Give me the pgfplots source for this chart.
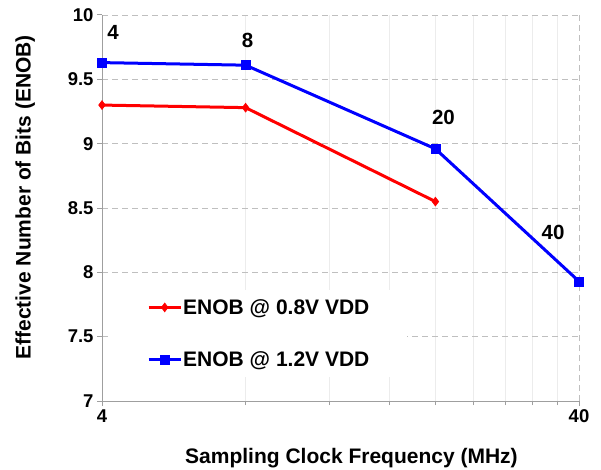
\documentclass[border=0pt]{standalone}
\usepackage{fontspec}
\setmainfont{Liberation Sans}
\usepackage{pgfplots}
\pgfplotsset{compat=1.18}
\begin{document}
\begin{tikzpicture}
\useasboundingbox (-102pt,-68pt) rectangle (499pt,401pt);
\begin{axis}[
 at={(0pt,0pt)}, anchor=south west,
 scale only axis, width=477pt, height=386pt,
 xmode=log, xmin=4, xmax=40, ymin=7, ymax=10,
 xtick={4,40}, xticklabels={4,40},
 minor xtick={8,12,16,20,24,28,32,36},
 ytick={7,7.5,...,10},
 axis x line*=bottom, axis y line*=left,
 axis line style={draw=gray!75, line width=1pt, -},
 tick style={draw=gray!75, line width=1pt},
 tick align=outside, major tick length=5pt, minor tick length=4pt,
 ymajorgrids, xmajorgrids, xminorgrids,
 major grid style={dash pattern=on 6pt off 4pt, gray!50, line width=0.8pt},
 minor grid style={solid, gray!15, line width=0.8pt},
 ticklabel style={font=\fontsize{18.5}{20}\selectfont\bfseries},
 /pgf/number format/assume math mode=true,
 yticklabel style={/pgf/number format/fixed},
 label style={font=\fontsize{21}{25}\selectfont\bfseries},
 xlabel={Sampling Clock Frequency (MHz)},
 ylabel={Effective Number of Bits (ENOB)},
 xlabel style={at={(axis description cs:0.523,-0.148)}, anchor=center},
 ylabel style={at={(axis description cs:-0.161,0.528)}, anchor=center},
 legend style={at={(rel axis cs:0.0168,0.2876)}, anchor=north west, fill=white, draw=none,
   inner xsep=37pt, inner ysep=8pt, row sep=34pt, column sep=0pt,
   font=\fontsize{21}{25}\selectfont\bfseries, nodes={inner sep=1pt}},
 legend cell align=left,
 legend image code/.code={\draw[mark repeat=2,mark phase=2] plot coordinates {(0pt,0pt)(16pt,0pt)(32pt,0pt)};},
 clip=false,
]
\addplot[red, line width=3pt, mark=diamond*, mark size=4.5pt, mark options={solid, line width=0.5pt}]
 coordinates {(4,9.30) (8,9.28) (20,8.55)};
\addlegendentry{ENOB @ 0.8V VDD}
\addplot[blue, line width=3pt, mark=square*, mark size=4.5pt, mark options={solid, line width=0.5pt}]
 coordinates {(4,9.63) (8,9.61) (20,8.96) (40,7.93)};
\addlegendentry{ENOB @ 1.2V VDD}
\begin{scope}[font=\fontsize{20.5}{24}\selectfont\bfseries]
\node[xshift=11pt, yshift=30pt] at (axis cs:4,9.63) {4};
\node[xshift=2pt, yshift=25pt] at (axis cs:8,9.61) {8};
\node[xshift=8pt, yshift=31pt] at (axis cs:20,8.96) {20};
\node[xshift=-26pt, yshift=49pt] at (axis cs:40,7.93) {40};
\end{scope}
\end{axis}
\end{tikzpicture}
\end{document}
